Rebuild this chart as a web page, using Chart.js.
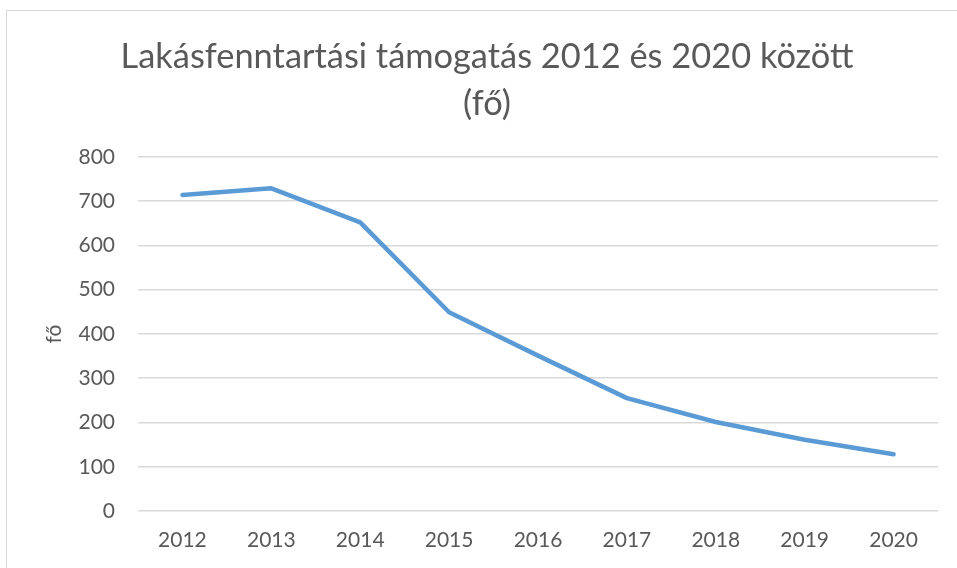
<!DOCTYPE html>
<html>
<head>
<meta charset="utf-8">
<script src="https://cdn.jsdelivr.net/npm/chart.js@4.4.1/dist/chart.umd.min.js"></script>
<style>
  html, body { margin: 0; padding: 0; background: #fff; overflow: hidden; }
  #frame {
    position: absolute; left: 6px; top: 10px;
    width: 1000px; height: 600px;
    border: 1px solid #d9d9d9;
  }
  #chart { position: absolute; left: 0; top: 0; }
</style>
</head>
<body>
<div id="frame"></div>
<canvas id="chart" width="957" height="568"></canvas>
<script>
// Chart data
const years = ['2012', '2013', '2014', '2015', '2016', '2017', '2018', '2019', '2020'];
const persons = [714, 729, 652, 449, 351, 255, 201, 161, 128];
const titleLines = ['Lakásfenntartási támogatás 2012 és 2020 között', '(fő)'];
const yAxisLabel = 'fő';

const textColor = '#595959';
const fontFamily = 'Lato, "Open Sans", sans-serif';

new Chart(document.getElementById('chart'), {
  type: 'line',
  data: {
    labels: years,
    datasets: [{
      label: 'fő',
      data: persons,
      borderColor: '#5B9BD5',
      borderWidth: 4.5,
      pointRadius: 0,
      tension: 0,
      borderCapStyle: 'round',
      borderJoinStyle: 'round',
      fill: false
    }]
  },
  options: {
    responsive: false,
    animation: false,
    layout: {
      padding: { left: 36, right: 19, top: 34, bottom: 12 }
    },
    plugins: {
      legend: { display: false },
      tooltip: { enabled: false },
      title: {
        display: true,
        text: titleLines,
        color: textColor,
        font: { family: fontFamily, size: 34.4, weight: 'normal', lineHeight: 1.35 },
        padding: { top: 0, bottom: 30 }
      }
    },
    scales: {
      x: {
        offset: true,
        afterFit: (scale) => { scale.height = 45; },
        grid: { display: false, drawTicks: false },
        border: { display: false },
        ticks: {
          color: textColor,
          font: { family: fontFamily, size: 21 },
          padding: 17,
          maxRotation: 0
        }
      },
      y: {
        min: 0,
        max: 800,
        afterFit: (scale) => { scale.width = 102; },
        grid: { color: '#d9d9d9', lineWidth: 1.5, drawTicks: false },
        border: { display: false },
        ticks: {
          stepSize: 100,
          color: textColor,
          font: { family: fontFamily, size: 21 },
          padding: 23
        },
        title: {
          display: true,
          text: yAxisLabel,
          color: textColor,
          font: { family: fontFamily, size: 21 },
          padding: { top: 6, bottom: 0 }
        }
      }
    }
  }
});
</script>
</body>
</html>
